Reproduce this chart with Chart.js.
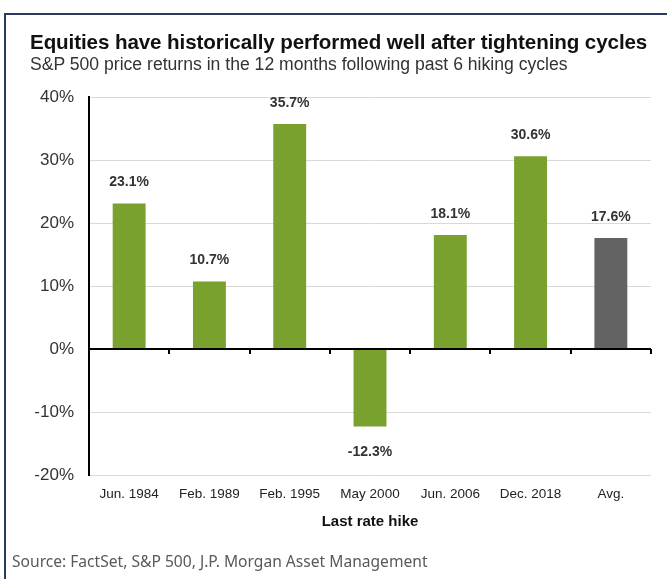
<!DOCTYPE html>
<html lang="en">
<head>
<meta charset="utf-8">
<title>Equities after tightening cycles</title>
<script src="https://cdn.jsdelivr.net/npm/chart.js@4.4.1/dist/chart.umd.min.js"></script>
<style>
    html, body {
        margin: 0;
        padding: 0;
        background: #ffffff;
        overflow: hidden;
    }

    .page {
        position: relative;
        width: 667px;
        height: 579px;
        font-family: "Liberation Sans", Arial, sans-serif;
    }

    .frame {
        position: absolute;
        left: 4px;
        top: 13px;
        width: 700px;
        height: 600px;
        border-top: 2px solid #2b3b60;
        border-left: 2px solid #2b3b60;
    }

    .chart-wrap {
        position: absolute;
        left: 0;
        top: 0;
        width: 667px;
        height: 579px;
    }

    .title {
        position: absolute;
        left: 30px;
        top: 32px;
        margin: 0;
        font-size: 20.6px;
        line-height: 20.6px;
        font-weight: bold;
        letter-spacing: -0.1px;
        color: #111111;
        white-space: nowrap;
    }

    .subtitle {
        position: absolute;
        left: 30px;
        top: 56px;
        margin: 0;
        font-size: 17.6px;
        line-height: 17.6px;
        color: #333333;
        white-space: nowrap;
    }

    .source {
        position: absolute;
        left: 12px;
        top: 554px;
        margin: 0;
        font-family: "Noto Sans", sans-serif;
        font-size: 15.6px;
        line-height: 15.6px;
        color: #595959;
        white-space: nowrap;
    }
</style>
</head>
<body>
<div class="page">
    <div class="frame"></div>
    <div class="chart-wrap"><canvas id="hikeChart"></canvas></div>
    <h1 class="title">Equities have historically performed well after tightening cycles</h1>
    <p class="subtitle">S&amp;P 500 price returns in the 12 months following past 6 hiking cycles</p>
    <p class="source">Source: FactSet, S&amp;P 500, J.P. Morgan Asset Management</p>
</div>

<script>
const categories = ["Jun. 1984", "Feb. 1989", "Feb. 1995", "May 2000", "Jun. 2006", "Dec. 2018", "Avg."];
const returnValues = [23.1, 10.7, 35.7, -12.3, 18.1, 30.6, 17.6];
const barColors = ["#79a12e", "#79a12e", "#79a12e", "#79a12e", "#79a12e", "#79a12e", "#636363"];
const yTicks = [-20, -10, 0, 10, 20, 30, 40];
const xAxisTitle = "Last rate hike";

const chartFont = "'Liberation Sans', Arial, sans-serif";

const valueLabelPlugin = {
    id: "valueLabels",
    afterDatasetsDraw(chart) {
        const { ctx } = chart;
        const meta = chart.getDatasetMeta(0);

        ctx.save();
        ctx.font = `bold 14px ${chartFont}`;
        ctx.fillStyle = "#333333";
        ctx.textAlign = "center";
        ctx.textBaseline = "middle";

        meta.data.forEach((bar, index) => {
            const value = returnValues[index];
            const labelY = value >= 0 ? bar.y - 21 : bar.y + 26;
            ctx.fillText(`${value.toFixed(1)}%`, bar.x, labelY);
        });

        ctx.restore();
    }
};

// zero line and the small category ticks hanging under it
const zeroAxisPlugin = {
    id: "zeroAxis",
    afterDatasetsDraw(chart) {
        const { ctx } = chart;
        const xScale = chart.scales.x;
        const zeroY = chart.scales.y.getPixelForValue(0);
        const step = xScale.width / categories.length;

        ctx.save();
        ctx.strokeStyle = "#000000";
        ctx.lineWidth = 2;
        ctx.beginPath();
        ctx.moveTo(xScale.left, zeroY);
        ctx.lineTo(xScale.right, zeroY);

        for (let i = 1; i <= categories.length; i++) {
            const tickX = Math.round(xScale.left + step * i);
            ctx.moveTo(tickX, zeroY);
            ctx.lineTo(tickX, zeroY + 5);
        }

        ctx.stroke();
        ctx.restore();
    }
};

function initializeChart() {
    const canvas = document.getElementById("hikeChart");

    if (!canvas || typeof Chart === "undefined") {
        return;
    }

    new Chart(canvas.getContext("2d"), {
        type: "bar",
        data: {
            labels: categories,
            datasets: [{
                data: returnValues,
                backgroundColor: barColors,
                borderWidth: 0,
                categoryPercentage: 1,
                barPercentage: 0.41
            }]
        },
        options: {
            responsive: true,
            maintainAspectRatio: false,
            animation: false,
            layout: {
                padding: {
                    left: 0,
                    right: 16,
                    top: 97,
                    bottom: 44
                }
            },
            plugins: {
                legend: {
                    display: false
                },
                tooltip: {
                    enabled: false
                }
            },
            scales: {
                x: {
                    afterFit(scale) {
                        scale.height = 60;
                    },
                    grid: {
                        display: false
                    },
                    border: {
                        display: false
                    },
                    ticks: {
                        color: "#222222",
                        padding: 3,
                        maxRotation: 0,
                        autoSkip: false,
                        font: {
                            family: chartFont,
                            size: 13.5
                        }
                    },
                    title: {
                        display: true,
                        text: xAxisTitle,
                        color: "#111111",
                        padding: { top: 0, bottom: 4 },
                        font: {
                            family: chartFont,
                            size: 15,
                            weight: "bold"
                        }
                    }
                },
                y: {
                    min: yTicks[0],
                    max: yTicks[yTicks.length - 1],
                    afterFit(scale) {
                        scale.width = 89;
                    },
                    afterBuildTicks(scale) {
                        scale.ticks = yTicks.map((value) => ({ value }));
                    },
                    grid: {
                        drawTicks: false,
                        color(context) {
                            return context.tick && context.tick.value === 0 ? "#000000" : "#d9d9d9";
                        },
                        lineWidth(context) {
                            return context.tick && context.tick.value === 0 ? 2 : 1;
                        }
                    },
                    border: {
                        display: true,
                        color: "#000000",
                        width: 2
                    },
                    ticks: {
                        color: "#333333",
                        padding: 15,
                        font: {
                            family: chartFont,
                            size: 17
                        },
                        callback(value) {
                            return `${value}%`;
                        }
                    }
                }
            }
        },
        plugins: [valueLabelPlugin, zeroAxisPlugin]
    });
}

document.addEventListener("DOMContentLoaded", () => {
    initializeChart();
});
</script>
</body>
</html>
